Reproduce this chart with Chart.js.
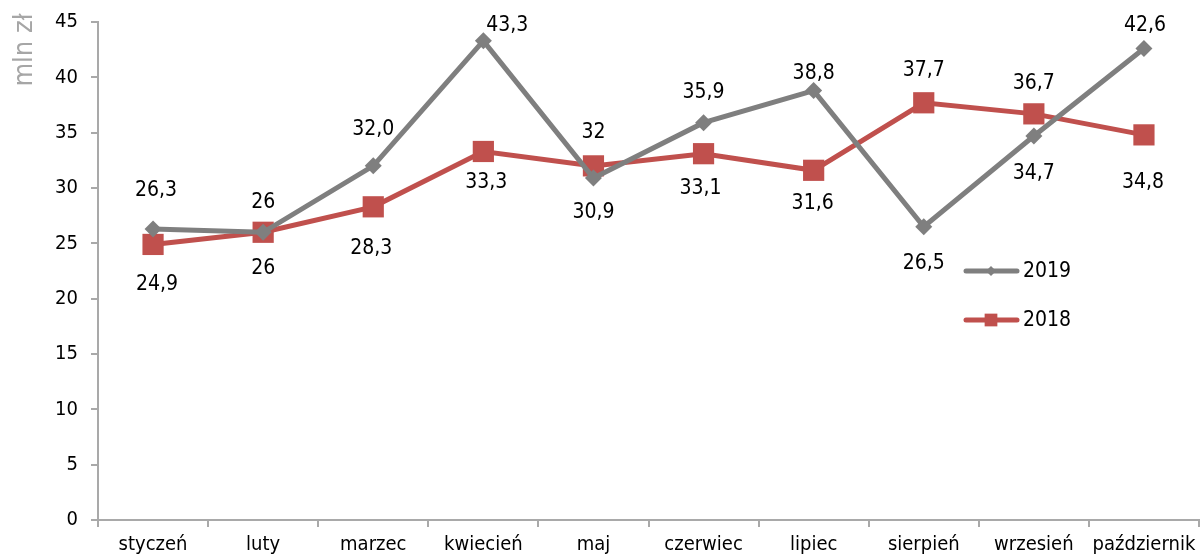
<!DOCTYPE html>
<html lang="pl">
<head>
<meta charset="utf-8">
<title>mln zł 2018 / 2019</title>
<script src="https://cdn.jsdelivr.net/npm/chart.js@4/dist/chart.umd.min.js"></script>
<style>
  html, body { margin: 0; padding: 0; background: #fff; }
  #chart { display: block; }
</style>
</head>
<body>
<canvas id="chart" width="1201" height="560"></canvas>
<script>
/* Monthly values, mln zł, 2019 vs 2018 */
const months = ['styczeń', 'luty', 'marzec', 'kwiecień', 'maj', 'czerwiec', 'lipiec', 'sierpień', 'wrzesień', 'październik'];
const values2019 = [26.3, 26, 32.0, 43.3, 30.9, 35.9, 38.8, 26.5, 34.7, 42.6];
const values2018 = [24.9, 26, 28.3, 33.3, 32, 33.1, 31.6, 37.7, 36.7, 34.8];
const labels2019 = ['26,3', '26', '32,0', '43,3', '30,9', '35,9', '38,8', '26,5', '34,7', '42,6'];
const labels2018 = ['24,9', '26', '28,3', '33,3', '32', '33,1', '31,6', '37,7', '36,7', '34,8'];
const yTicks = [0, 5, 10, 15, 20, 25, 30, 35, 40, 45];

// label nudges (px) relative to each point, as placed in the original
const nudge2019 = [[3, -38], [0, -30], [0, -36], [24, -15], [0, 35], [0, -30], [0, -17], [0, 37], [0, 38], [1, -23]];
const nudge2018 = [[4, 40], [0, 36], [-2, 42], [3, 31], [0, -33], [-3, 35], [-1, 33], [0, -32], [0, -30], [-1, 48]];

const FONT = '"DejaVu Sans Condensed", "DejaVu Sans", sans-serif';
const GREY = '#7f7f7f';
const RED = '#c0504d';
const AXIS = '#a9a9a9';

const valueLabels = {
  id: 'valueLabels',
  afterDatasetsDraw(chart) {
    const ctx = chart.ctx;
    const sets = [[labels2019, nudge2019], [labels2018, nudge2018]];
    ctx.save();
    ctx.font = '21px ' + FONT;
    ctx.fillStyle = '#000';
    ctx.textAlign = 'center';
    ctx.textBaseline = 'middle';
    sets.forEach(([txt, off], i) => {
      chart.getDatasetMeta(i).data.forEach((pt, j) => {
        ctx.fillText(txt[j], pt.x + off[j][0], pt.y + off[j][1]);
      });
    });
    ctx.restore();
  }
};

const extras = {
  id: 'extras',
  afterDraw(chart) {
    const ctx = chart.ctx;
    ctx.save();
    // y axis title
    ctx.translate(25, 50);
    ctx.rotate(-Math.PI / 2);
    ctx.font = '27px ' + FONT;
    ctx.fillStyle = '#a6a6a6';
    ctx.textAlign = 'center';
    ctx.textBaseline = 'middle';
    ctx.fillText('mln zł', 0, 0);
    ctx.restore();

    // legend
    const items = [
      { text: '2019', color: GREY, y: 271, style: 'rectRot', r: 5 },
      { text: '2018', color: RED, y: 320, style: 'rect', r: 9 }
    ];
    items.forEach(it => {
      ctx.save();
      ctx.strokeStyle = it.color;
      ctx.lineWidth = 5;
      ctx.lineCap = 'round';
      ctx.beginPath();
      ctx.moveTo(966, it.y);
      ctx.lineTo(1017, it.y);
      ctx.stroke();
      ctx.fillStyle = it.color;
      Chart.helpers.drawPoint(ctx, { pointStyle: it.style, radius: it.r, borderWidth: 0 }, 991, it.y);
      ctx.font = '21px ' + FONT;
      ctx.fillStyle = '#000';
      ctx.textAlign = 'left';
      ctx.textBaseline = 'middle';
      ctx.fillText(it.text, 1023, it.y + 1);
      ctx.restore();
    });
  }
};

new Chart(document.getElementById('chart'), {
  type: 'line',
  data: {
    labels: months,
    datasets: [
      {
        label: '2019',
        data: values2019,
        borderColor: GREY,
        backgroundColor: GREY,
        borderWidth: 5,
        pointStyle: 'rectRot',
        pointRadius: 8.5,
        pointBorderWidth: 0,
        tension: 0
      },
      {
        label: '2018',
        data: values2018,
        borderColor: RED,
        backgroundColor: RED,
        borderWidth: 5,
        pointStyle: 'rect',
        pointRadius: 15,
        pointBorderWidth: 0,
        tension: 0
      }
    ]
  },
  options: {
    responsive: false,
    animation: false,
    layout: { autoPadding: false, padding: { left: 0, right: 2, top: 22, bottom: 0 } },
    plugins: {
      legend: { display: false },
      tooltip: { enabled: false }
    },
    scales: {
      x: {
        offset: true,
        grid: { offset: true, drawOnChartArea: false, drawTicks: true, tickLength: 7, color: AXIS, lineWidth: 2 },
        border: { display: true, color: AXIS, width: 2 },
        ticks: { color: '#000', font: { family: FONT, size: 20 }, padding: 6, maxRotation: 0, autoSkip: false },
        afterFit(scale) {
          scale.height = 40;
          scale.paddingLeft = 0;
          scale.paddingRight = 0;
        }
      },
      y: {
        min: 0,
        max: 45,
        afterBuildTicks(scale) { scale.ticks = yTicks.map(v => ({ value: v })); },
        grid: { drawOnChartArea: false, drawTicks: true, tickLength: 7, color: AXIS, lineWidth: 2 },
        border: { display: true, color: AXIS, width: 2 },
        ticks: { color: '#000', font: { family: FONT, size: 20 }, padding: 13 },
        afterFit(scale) {
          scale.width = 98;
          scale.paddingTop = 0;
          scale.paddingBottom = 0;
        }
      }
    }
  },
  plugins: [valueLabels, extras]
});
</script>
</body>
</html>
